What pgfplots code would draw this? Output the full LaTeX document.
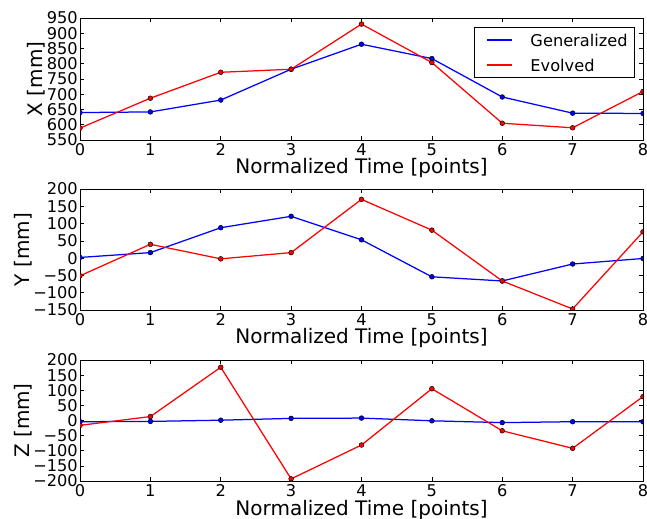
\documentclass[border=0pt]{standalone}
\usepackage{pgfplots}
\pgfplotsset{compat=1.18}
\usepackage{fontspec}
\setmainfont{DejaVu Sans}

\pgfplotsset{
 mystyle/.style={
  scale only axis, width=563bp,
  xmin=0,xmax=8, xtick={0,...,8},
  tick align=inside, major tick length=4bp,
  axis line style={line width=0.8bp},
  every tick/.style={black, line width=0.6bp},
  tick label style={font=\fontsize{16.2bp}{16.2bp}\selectfont},
  /pgf/number format/assume math mode=true,
  xticklabel style={inner sep=0pt, anchor=north, yshift=-3bp},
  yticklabel style={inner sep=0pt, anchor=east, xshift=-2bp},
  label style={font=\fontsize{20bp}{20bp}\selectfont},
  xlabel={Normalized Time [points]},
  xlabel style={at={(axis description cs:0.5,0)}, anchor=base, yshift=-34bp},
  ylabel style={at={(axis description cs:-0.067,0.5)}, anchor=base},
  clip marker paths=true,
 },
 gen/.style={color=blue, line width=1.25bp, mark=*, mark size=2.4bp, mark options={fill=blue, draw=black, line width=0.5bp}},
 evo/.style={color=red, line width=1.25bp, mark=*, mark size=2.4bp, mark options={fill=red, draw=black, line width=0.5bp}},
}

\begin{document}
\begin{tikzpicture}
\useasboundingbox (0,0) rectangle (647bp,519bp);

% X
\begin{axis}[mystyle, height=122bp, at={(80bp,379bp)}, anchor=south west,
  ymin=550, ymax=950, ytick={550,600,...,950},
  yticklabels={550,600,650,700,750,800,850,900,950},
  ylabel={X [mm]},
  legend style={at={(1,1)}, anchor=north east, xshift=-8bp, yshift=-9bp,
    draw=black, line width=0.8bp, inner xsep=7bp, inner ysep=5.5bp,
    font=\fontsize{16.2bp}{16.2bp}\selectfont,
    nodes={inner xsep=0bp, inner ysep=0bp, text height=14bp, text depth=0bp},
    column sep=18bp, row sep=11bp, cells={anchor=west}},
  legend image code/.code={\draw[#1, mark=none, line width=1.25bp] (0bp,0bp) -- (25bp,0bp); \path (-5bp,0bp);},
]
\addplot[gen] coordinates {(0,640) (1,642) (2,681) (3,782) (4,864) (5,817) (6,691) (7,638) (8,637)};
\addplot[evo] coordinates {(0,589) (1,687) (2,772) (3,782) (4,930) (5,804) (6,605) (7,590) (8,709)};
\legend{Generalized, Evolved}
\end{axis}

% Y
\begin{axis}[mystyle, height=121bp, at={(80bp,209bp)}, anchor=south west,
  ymin=-150, ymax=200, ytick={-150,-100,...,200},
  yticklabels={−150,−100,−50,0,50,100,150,200},
  ylabel={Y [mm]},
  ylabel style={at={(axis description cs:-0.0895,0.5)}, anchor=base},
]
\addplot[gen] coordinates {(0,2) (1,16) (2,88) (3,121) (4,53) (5,-54) (6,-66) (7,-17) (8,-1)};
\addplot[evo] coordinates {(0,-51) (1,40) (2,-2) (3,16) (4,170) (5,81) (6,-66) (7,-147) (8,76)};
\end{axis}

% Z
\begin{axis}[mystyle, height=121bp, at={(80bp,38bp)}, anchor=south west,
  ymin=-200, ymax=200, ytick={-200,-150,...,200},
  yticklabels={−200,−150,−100,−50,0,50,100,150,200},
  ylabel={Z [mm]},
  ylabel style={at={(axis description cs:-0.0895,0.5)}, anchor=base},
]
\addplot[gen] coordinates {(0,-4) (1,-3) (2,1) (3,7) (4,8) (5,-1) (6,-7) (7,-4) (8,-4)};
\addplot[evo] coordinates {(0,-16) (1,13) (2,176) (3,-193) (4,-81) (5,105) (6,-34) (7,-92) (8,79)};
\end{axis}
\end{tikzpicture}
\end{document}
